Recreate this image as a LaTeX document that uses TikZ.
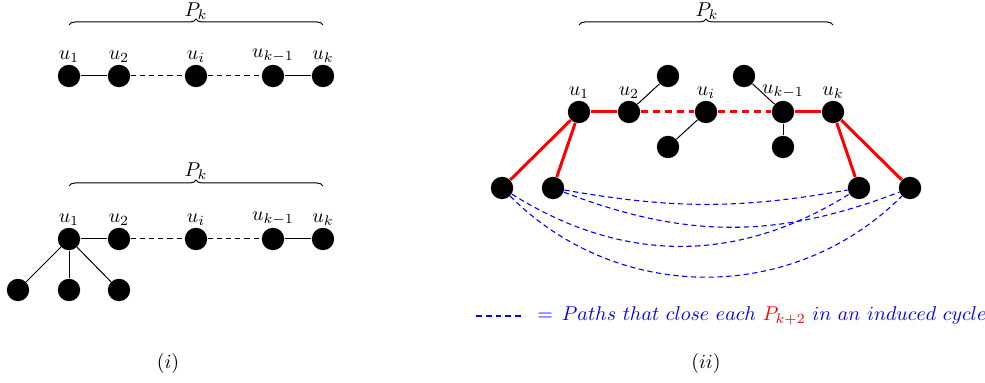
\documentclass[tikz,border=0pt]{standalone}
\usetikzlibrary{decorations.pathreplacing}
\begin{document}
\begin{tikzpicture}[x=0.5pt,y=-0.5pt,
  vtx/.style={circle,fill=black,inner sep=0pt,minimum size=11.2pt},
  thin edge/.style={line width=0.5pt},
  thin dash/.style={thin edge,dash pattern=on 2.6pt off 2pt},
  red edge/.style={red,line width=1.5pt},
  red dash/.style={red edge,dash pattern=on 3.6pt off 2.4pt},
  blue path/.style={blue,line width=0.55pt,dash pattern=on 2.6pt off 1.8pt},
  bracestyle/.style={decorate,decoration={brace,amplitude=3pt},line width=0.5pt},
  lab/.style={label distance=-2.5pt}]
\useasboundingbox (0,0) rectangle (985,383);

% ---------- panel (i) top ----------
\draw[bracestyle] (69,25) -- (323,25);
\node (pa) at (196,11) {$P_k$};
\node[vtx,label={[lab]above:$u_1$}] (a1) at (69,76) {};
\node[vtx,label={[lab]above:$u_2$}] (a2) at (119,76) {};
\node[vtx,label={[lab]above:$u_i$}] (a3) at (196,76) {};
\node[vtx,label={[lab]above:$u_{k-1}$}] (a4) at (273,76) {};
\node[vtx,label={[lab]above:$u_k$}] (a5) at (323,76) {};
\draw[thin edge] (a1) -- (a2);
\draw[thin dash] (a2) -- (a3);
\draw[thin dash] (a3) -- (a4);
\draw[thin edge] (a4) -- (a5);

% ---------- panel (i) bottom ----------
\draw[bracestyle] (69,186) -- (323,186);
\node (pb) at (196,171) {$P_k$};
\node[vtx,label={[lab]above:$u_1$}] (b1) at (69,239) {};
\node[vtx,label={[lab]above:$u_2$}] (b2) at (119,239) {};
\node[vtx,label={[lab]above:$u_i$}] (b3) at (196,239) {};
\node[vtx,label={[lab]above:$u_{k-1}$}] (b4) at (273,239) {};
\node[vtx,label={[lab]above:$u_k$}] (b5) at (323,239) {};
\node[vtx] (l1) at (18,290) {};
\node[vtx] (l2) at (69,290) {};
\node[vtx] (l3) at (119,290) {};
\draw[thin edge] (b1) -- (b2);
\draw[thin dash] (b2) -- (b3);
\draw[thin dash] (b3) -- (b4);
\draw[thin edge] (b4) -- (b5);
\draw[thin edge] (b1) -- (l1);
\draw[thin edge] (b1) -- (l2);
\draw[thin edge] (b1) -- (l3);

% ---------- panel (ii) ----------
\draw[bracestyle] (579,25) -- (833,25);
\node (pc) at (707,11) {$P_k$};
\node[vtx,label={[lab]above:$u_1$}] (c1) at (579,112) {};
\node[vtx,label={[lab]above:$u_2$}] (c2) at (629,112) {};
\node[vtx,label={[lab]above:$u_i$}] (c3) at (706,112) {};
\node[vtx,label={[lab]above:$u_{k-1}$}] (c4) at (783,112) {};
\node[vtx,label={[lab]above:$u_k$}] (c5) at (833,112) {};
\node[vtx] (p1) at (668,76) {};
\node[vtx] (p2) at (668,147) {};
\node[vtx] (p3) at (744,76) {};
\node[vtx] (p4) at (783,147) {};
\node[vtx] (d1) at (502,188) {};
\node[vtx] (d2) at (553,188) {};
\node[vtx] (d3) at (859,188) {};
\node[vtx] (d4) at (910,188) {};
\draw[thin edge] (c2) -- (p1);
\draw[thin edge] (c3) -- (p2);
\draw[thin edge] (c4) -- (p3);
\draw[thin edge] (c4) -- (p4);
\draw[red edge] (c1) -- (c2);
\draw[red dash] (c2) -- (c3);
\draw[red dash] (c3) -- (c4);
\draw[red edge] (c4) -- (c5);
\draw[red edge] (c1) -- (d1);
\draw[red edge] (c1) -- (d2);
\draw[red edge] (c5) -- (d3);
\draw[red edge] (c5) -- (d4);
\draw[blue path] (d2) to[bend right=10] (d3);
\draw[blue path] (d2) to[bend right=21] (d4);
\draw[blue path] (d1) to[bend right=32] (d3);
\draw[blue path] (d1) to[bend right=45] (d4);

% legend
\coordinate (lg0) at (476,316);
\node[anchor=west,inner sep=0pt,text=blue] (lg) at (537,316)
  {$=\,Paths\ that\ close\ each\ {\color{red}P_{k+2}}\ in\ an\ induced\ cycle$};
\draw[blue path,dash pattern=on 2.9pt off 2pt] (lg0) -- ([xshift=-6pt]lg.west);

% captions
\node (ci) at (168,364) {$(i)$};
\node (cii) at (706,364) {$(ii)$};
\end{tikzpicture}
\end{document}
